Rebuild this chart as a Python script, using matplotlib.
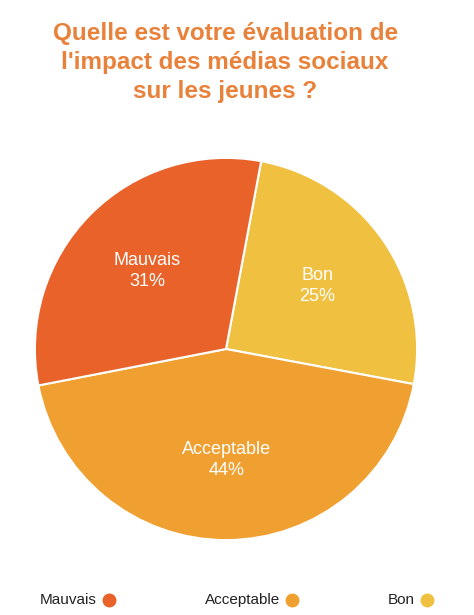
import matplotlib
matplotlib.use("Agg")
import matplotlib.pyplot as plt

labels = ["Bon", "Acceptable", "Mauvais"]
values = [25, 44, 31]
colors = ["#F0C040", "#F0A030", "#E8622A"]

legend_labels = ["Mauvais", "Acceptable", "Bon"]
legend_colors = ["#E8622A", "#F0A030", "#F0C040"]

plt.rcParams["font.family"] = ["Liberation Sans", "DejaVu Sans"]

fig = plt.figure(figsize=(4.74, 6.15), dpi=100)
fig.patch.set_facecolor("white")

fig.text(0.475, 0.965, "Quelle est votre évaluation de\nl'impact des médias sociaux\nsur les jeunes ?",
         ha="center", va="top", fontsize=17.5, fontweight="bold", color="#E8813A", linespacing=1.35)

ax = fig.add_axes([33 / 474, 73 / 615, 386 / 474, 386 / 615])
wedges, texts, autotexts = ax.pie(
    values, colors=colors, startangle=79.4, counterclock=False,
    autopct=lambda p: "", pctdistance=0.58, radius=1.0,
    wedgeprops=dict(edgecolor="white", linewidth=1.5))
for lab, v, at in zip(labels, values, autotexts):
    at.set_text(f"{lab}\n{v}%")
    at.set_color("white")
    at.set_fontsize(13)
    at.set_linespacing(1.3)
ax.set_xlim(-1.01, 1.01)
ax.set_ylim(-1.01, 1.01)
ax.set_aspect("equal")

lax = fig.add_axes([0, 0, 1, 0.06])
lax.set_xlim(0, 474)
lax.set_ylim(0, 1)
lax.axis("off")
text_x = [40, 205, 388]
for x, lab, c in zip(text_x, legend_labels, legend_colors):
    t = lax.text(x, 0.4, lab, ha="left", va="center", fontsize=11, color="#222222")
fig.canvas.draw()
r = fig.canvas.get_renderer()
for t, c in zip(lax.texts, legend_colors):
    bb = t.get_window_extent(r)
    lax.plot([bb.x1 + 12], [0.4], marker="o", markersize=9, color=c, linestyle="none")

fig.savefig("out.png", dpi=100)
